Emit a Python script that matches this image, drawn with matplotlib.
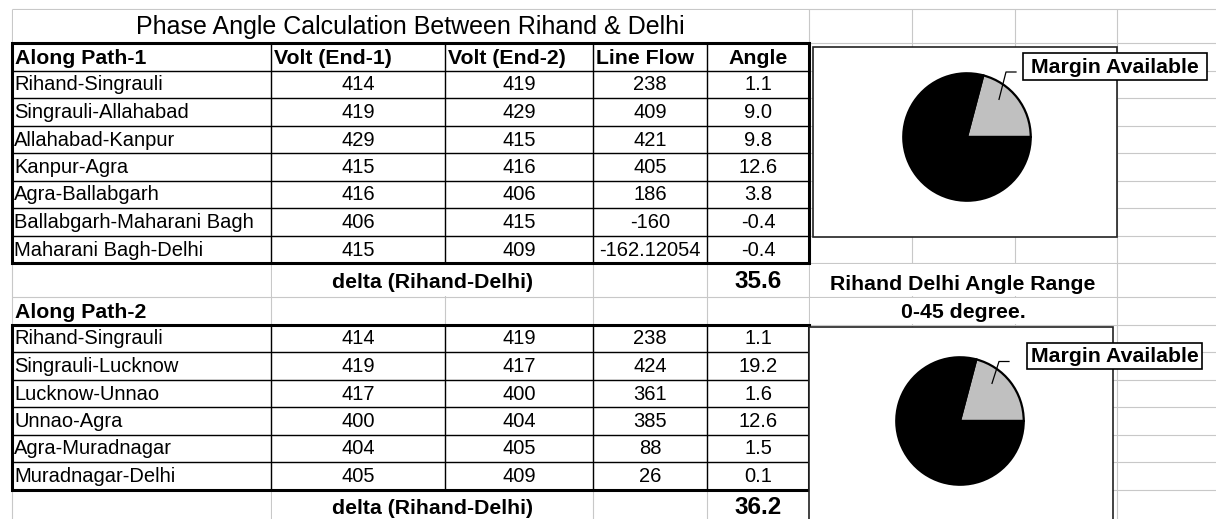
import matplotlib.pyplot as plt
from matplotlib.patches import Rectangle
from matplotlib.lines import Line2D
import numpy as np

plt.rcParams['font.family'] = ['Liberation Sans', 'DejaVu Sans']

# ---- data read from the sheet ----
title = "Phase Angle Calculation Between Rihand & Delhi"
col_headers = ["Volt (End-1)", "Volt (End-2)", "Line Flow", "Angle"]

path1_links = ["Rihand-Singrauli", "Singrauli-Allahabad", "Allahabad-Kanpur", "Kanpur-Agra",
               "Agra-Ballabgarh", "Ballabgarh-Maharani Bagh", "Maharani Bagh-Delhi"]
path1_volt1 = [414, 419, 429, 415, 416, 406, 415]
path1_volt2 = [419, 429, 415, 416, 406, 415, 409]
path1_flow = [238, 409, 421, 405, 186, -160, -162.12054]
path1_angle = [1.1, 9.0, 9.8, 12.6, 3.8, -0.4, -0.4]
path1_delta = 35.6

path2_links = ["Rihand-Singrauli", "Singrauli-Lucknow", "Lucknow-Unnao", "Unnao-Agra",
               "Agra-Muradnagar", "Muradnagar-Delhi"]
path2_volt1 = [414, 419, 417, 400, 404, 405]
path2_volt2 = [419, 417, 400, 404, 405, 409]
path2_flow = [238, 424, 361, 385, 88, 26]
path2_angle = [1.1, 19.2, 1.6, 12.6, 1.5, 0.1]
path2_delta = 36.2

range_text = ["Rihand Delhi Angle Range", "0-45 degree."]
pie_label = "Margin Available"
# slices as drawn in the two pies: [margin, used]
pie1_values = [9.4, 35.6]
pie2_values = [9.4, 35.6]
pie_colors = ['#c0c0c0', 'black']

# ---- sheet layout (pixels) ----
W, H = 1216, 519
col_x = [12, 271, 445, 593, 707, 809, 912, 1015, 1117]
row_h = [34] + [27.5] * 8 + [34] + [27.5] * 7 + [34]
row_y = np.concatenate([[9], 9 + np.cumsum(row_h)])
grid_c = '#c8c8c8'

fig = plt.figure(figsize=(W / 100, H / 100), dpi=100)
ax = fig.add_axes([0, 0, 1, 1])
ax.set_xlim(0, W)
ax.set_ylim(H, 0)
ax.axis('off')

# excel gridlines
ax.hlines(row_y, col_x[0], W, color=grid_c, lw=0.8, zorder=0)
ax.vlines(col_x, row_y[0], H, color=grid_c, lw=0.8, zorder=0)


def blank(x0, x1, y0, y1):
    # merged / overflow cells hide the gridlines
    ax.add_patch(Rectangle((x0 + 0.7, y0 + 0.7), x1 - x0 - 1.4, y1 - y0 - 1.4,
                           facecolor='white', edgecolor='none', zorder=1))


blank(col_x[0], col_x[5], row_y[0], row_y[1])
for r in (9, 17):
    blank(col_x[1], col_x[3], row_y[r], row_y[r + 1])
for r in (9, 10):
    blank(col_x[5], col_x[8], row_y[r], row_y[r + 1])


def block(r0, r1):
    y0, y1 = row_y[r0], row_y[r1]
    ax.hlines(row_y[r0 + 1:r1], col_x[0], col_x[5], color='black', lw=1.0, zorder=2)
    ax.vlines(col_x[1:5], y0, y1, color='black', lw=1.0, zorder=2)
    ax.add_patch(Rectangle((col_x[0], y0), col_x[5] - col_x[0], y1 - y0,
                           fill=False, edgecolor='black', lw=2.2, zorder=3))


block(1, 9)
block(11, 17)

centers = [(col_x[i] + col_x[i + 1]) / 2 for i in range(5)]
body_fs = 14.5
bold_fs = 15.3


def put(x, y, s, ha='center', fs=body_fs, weight='normal'):
    ax.text(x, y, s, ha=ha, va='baseline', fontsize=fs, fontweight=weight, zorder=4)


put((col_x[0] + col_x[5]) / 2, row_y[0] + 25, title, fs=18)


def section(head, hrow, links, v1, v2, flow, angle, drow, delta, with_cols):
    put(col_x[0] + 3, row_y[hrow] + 20.5, head, ha='left', fs=bold_fs, weight='bold')
    if with_cols:
        for i, h in enumerate(col_headers[:3]):
            put(col_x[i + 1] + 3, row_y[hrow] + 20.5, h, ha='left', fs=bold_fs, weight='bold')
        put(centers[4], row_y[hrow] + 20.5, col_headers[3], fs=bold_fs, weight='bold')
    for k in range(len(links)):
        yb = row_y[hrow + 1 + k] + 20
        put(col_x[0] + 2, yb, links[k], ha='left')
        put(centers[1], yb, str(v1[k]))
        put(centers[2], yb, str(v2[k]))
        put(centers[3], yb, str(flow[k]))
        put(centers[4], yb, f"{angle[k]:.1f}")
    put((col_x[1] + col_x[3]) / 2, row_y[drow] + 25, "delta (Rihand-Delhi)", fs=bold_fs, weight='bold')
    put(centers[4], row_y[drow] + 25, f"{delta:.1f}", fs=17.5, weight='bold')


section("Along Path-1", 1, path1_links, path1_volt1, path1_volt2, path1_flow, path1_angle,
        9, path1_delta, True)
section("Along Path-2", 10, path2_links, path2_volt1, path2_volt2, path2_flow, path2_angle,
        17, path2_delta, False)

mid_right = (col_x[5] + col_x[8]) / 2
put(mid_right, row_y[9] + 27, range_text[0], fs=bold_fs, weight='bold')
put(mid_right, row_y[10] + 21, range_text[1], fs=bold_fs, weight='bold')


def pie_chart(values, frame, center, r, label_box):
    fx0, fy0, fx1, fy1 = frame
    ax.add_patch(Rectangle((fx0, fy0), fx1 - fx0, fy1 - fy0, facecolor='white',
                           edgecolor='#222222', lw=1.2, zorder=5))
    cx, cy = center
    pax = fig.add_axes([(cx - r) / W, 1 - (cy + r) / H, 2 * r / W, 2 * r / H])
    wedges, _ = pax.pie(values, colors=pie_colors, startangle=0, counterclock=True,
                        radius=1, wedgeprops=dict(edgecolor='black', linewidth=1.6))
    pax.set_xlim(-1.02, 1.02)
    pax.set_ylim(-1.02, 1.02)
    pax.axis('off')

    # label box and leader line
    lx0, ly0, lx1, ly1 = label_box
    ax.add_patch(Rectangle((lx0, ly0), lx1 - lx0, ly1 - ly0, facecolor='white',
                           edgecolor='black', lw=1.2, zorder=6))
    ax.text((lx0 + lx1) / 2, (ly0 + ly1) / 2 + 1, pie_label, ha='center', va='center',
            fontsize=bold_fs, fontweight='bold', zorder=7)
    a = np.deg2rad(wedges[0].theta2 * 0.66)
    sx = cx + 0.76 * r * np.cos(a)
    sy = cy - 0.76 * r * np.sin(a)
    ey = (ly0 + ly1) / 2 + 5.5
    ex = sx + 7
    pax.add_line(Line2D([sx, ex, ex + 10], [sy, ey, ey], color='black', lw=0.9,
                        transform=ax.transData, clip_on=False))


pie_chart(pie1_values, (813, 47, 1117, 237), (967, 137), 65, (1023, 53, 1207, 80))
pie_chart(pie2_values, (809, 326.5, 1113, 540), (960, 421), 65, (1027, 343, 1202, 369))

fig.savefig('out.png', dpi=100)
